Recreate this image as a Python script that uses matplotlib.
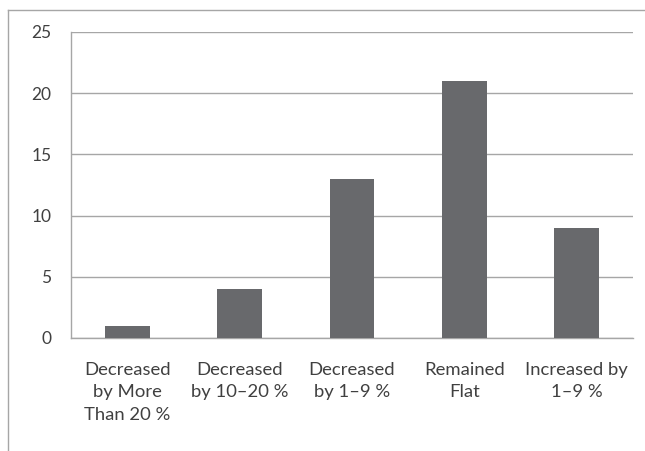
import matplotlib
matplotlib.use("Agg")
import matplotlib.pyplot as plt
from matplotlib.lines import Line2D

categories = ["Decreased\nby More\nThan 20 %", "Decreased\nby 10\u201320 %", "Decreased\nby 1\u20139 %",
              "Remained\nFlat", "Increased by\n1\u20139 %"]
values = [1, 4, 13, 21, 9]
yticks = [0, 5, 10, 15, 20, 25]

plt.rcParams['font.family'] = ['Lato', 'DejaVu Sans']
W, H = 645, 451
fig = plt.figure(figsize=(W/100, H/100), dpi=100)
ax = fig.add_axes([71/W, 1-338/H, (633-71)/W, (338-32)/H])

grid_c = '#a6a6a6'
text_c = '#404040'
x = range(len(values))
ax.bar(x, values, width=0.4, color='#68696c', zorder=3)
ax.set_xlim(-0.5, len(values)-0.5)
ax.set_ylim(0, 25)
ax.set_yticks(yticks)
ax.set_xticks(list(x))
ax.set_xticklabels(categories, linespacing=1.5, fontsize=13.3)
ax.yaxis.grid(True, color=grid_c, linewidth=1, zorder=0)
for s in ['top', 'right']:
    ax.spines[s].set_visible(False)
for s in ['left', 'bottom']:
    ax.spines[s].set_color(grid_c)
    ax.spines[s].set_linewidth(1)
ax.tick_params(axis='both', length=0, colors=text_c)
ax.tick_params(axis='y', pad=14, labelsize=12.5)
ax.tick_params(axis='x', pad=17)

# outer chart border (partially cropped)
fig.add_artist(Line2D([8/W, 8/W], [0, 1-10/H], transform=fig.transFigure, color=grid_c, lw=1))
fig.add_artist(Line2D([8/W, 1], [1-10/H, 1-10/H], transform=fig.transFigure, color=grid_c, lw=1))

fig.savefig("out.png", dpi=100)
